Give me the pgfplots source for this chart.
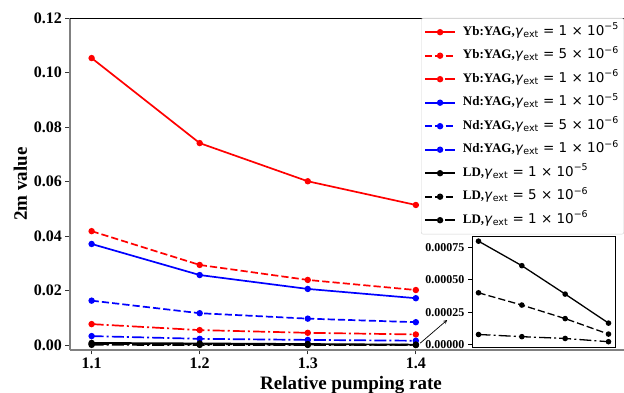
\documentclass[border=0pt]{standalone}
\usepackage{fontspec}
\setmainfont{Liberation Serif}
\newfontfamily\dv{DejaVu Sans}
\usepackage{pgfplots}
\pgfplotsset{compat=1.18}
\newcommand\gam[2]{{\dv\fontsize{13.5}{13.5}\selectfont\textit{γ}\textsubscript{ext} = #1 × 10\textsuperscript{−#2}}}
\pgfplotsset{
  mpldash/.style={dash pattern=on 7.2pt off 3.1pt},
  mpldashdot/.style={dash pattern=on 12pt off 3.1pt on 2pt off 3.1pt},
  every axis plot/.append style={line width=1.7pt, mark=*, mark size=2.3pt, mark options={solid}},
}
\begin{document}
\begin{tikzpicture}
\begin{axis}[
  at={(70pt,43pt)}, anchor=south west,
  scale only axis, width=562pt, height=332pt,
  xmin=1.08, xmax=1.6, ymin=-0.0018, ymax=0.12,
  clip=false,
  axis x line*=bottom, axis y line*=left,
  axis line style={gray, line width=1.2pt, -},
  xtick={1.1,1.2,1.3,1.4}, xticklabels={1.1,1.2,1.3,1.4},
  ytick={0,0.02,0.04,0.06,0.08,0.1,0.12},
  yticklabels={0.00,0.02,0.04,0.06,0.08,0.10,0.12},
  scaled y ticks=false,
  tick align=outside, major tick length=4.5pt,
  tick style={black!80, line width=0.8pt},
  tick label style={font=\bfseries\fontsize{16}{16}\selectfont},
  xlabel={\bfseries Relative pumping rate},
  ylabel={\bfseries 2m value},
  xlabel style={yshift=-1pt},
  label style={font=\bfseries\fontsize{19}{19}\selectfont},
  legend image code/.code={\draw[mark repeat=2,mark phase=2,#1] plot coordinates {(0pt,0pt)(15pt,0pt)(30pt,0pt)};},
  legend style={at={(axis description cs:0.6246,1)}, anchor=north west,
    draw=gray!35, rounded corners=2pt, fill=white, fill opacity=0.85, text opacity=1,
    font=\fontsize{13}{13}\selectfont, row sep=5.5pt, column sep=5pt, inner xsep=3pt, inner ysep=5pt,
    nodes={inner sep=2pt, text height=10pt, text depth=4pt}},
  legend cell align=left,
]
\addplot[red] coordinates {(1.1,0.1053)(1.2,0.0741)(1.3,0.0601)(1.4,0.0514)};
\addlegendentry{\textbf{Yb:YAG,}\gam{1}{5}}
\addplot[red, mpldash] coordinates {(1.1,0.0418)(1.2,0.0294)(1.3,0.0239)(1.4,0.0202)};
\addlegendentry{\textbf{Yb:YAG,}\gam{5}{6}}
\addplot[red, mpldashdot] coordinates {(1.1,0.0077)(1.2,0.0055)(1.3,0.0045)(1.4,0.0039)};
\addlegendentry{\textbf{Yb:YAG,}\gam{1}{6}}
\addplot[blue] coordinates {(1.1,0.0371)(1.2,0.0257)(1.3,0.0206)(1.4,0.0172)};
\addlegendentry{\textbf{Nd:YAG,}\gam{1}{5}}
\addplot[blue, mpldash] coordinates {(1.1,0.0163)(1.2,0.0117)(1.3,0.0097)(1.4,0.0084)};
\addlegendentry{\textbf{Nd:YAG,}\gam{5}{6}}
\addplot[blue, mpldashdot] coordinates {(1.1,0.0033)(1.2,0.0023)(1.3,0.0019)(1.4,0.0016)};
\addlegendentry{\textbf{Nd:YAG,}\gam{1}{6}}
\addplot[black] coordinates {(1.1,0.00080)(1.2,0.00061)(1.3,0.00039)(1.4,0.000165)};
\addlegendentry{\textbf{LD,}\gam{1}{5}}
\addplot[black, mpldash] coordinates {(1.1,0.00040)(1.2,0.000305)(1.3,0.00020)(1.4,0.000080)};
\addlegendentry{\textbf{LD,}\gam{5}{6}}
\addplot[black, mpldashdot] coordinates {(1.1,0.000077)(1.2,0.00006)(1.3,0.000046)(1.4,0.000021)};
\addlegendentry{\textbf{LD,}\gam{1}{6}}
\draw[black, line width=0.8pt] (rel axis cs:0,1) -- (rel axis cs:1,1) -- (rel axis cs:1,0);
\draw[-stealth, line width=0.7pt] (axis cs:1.404,0.0007) -- (axis cs:1.429,0.0092);
\end{axis}
\begin{axis}[
  at={(472pt,46pt)}, anchor=south west,
  scale only axis, width=143pt, height=111pt,
  xmin=1.085, xmax=1.415, ymin=-0.00002, ymax=0.00084,
  axis background/.style={fill=white},
  axis line style={black, line width=0.8pt},
  xtick=\empty,
  ytick={0,0.00025,0.0005,0.00075},
  yticklabels={0.00000,0.00025,0.00050,0.00075},
  scaled y ticks=false,
  ytick pos=left, tick align=outside, major tick length=4pt,
  tick style={black, line width=0.8pt},
  tick label style={font=\bfseries\fontsize{12}{12}\selectfont},
  every axis plot/.append style={line width=1.3pt, mark size=2.1pt},
]
\addplot[black] coordinates {(1.1,0.00080)(1.2,0.00061)(1.3,0.00039)(1.4,0.000165)};
\addplot[black, mpldash] coordinates {(1.1,0.00040)(1.2,0.000305)(1.3,0.00020)(1.4,0.000080)};
\addplot[black, mpldashdot] coordinates {(1.1,0.000077)(1.2,0.00006)(1.3,0.000046)(1.4,0.000021)};
\end{axis}
\pgfresetboundingbox
\useasboundingbox (0pt,0pt) rectangle (624pt,393pt);
\end{tikzpicture}
\end{document}
